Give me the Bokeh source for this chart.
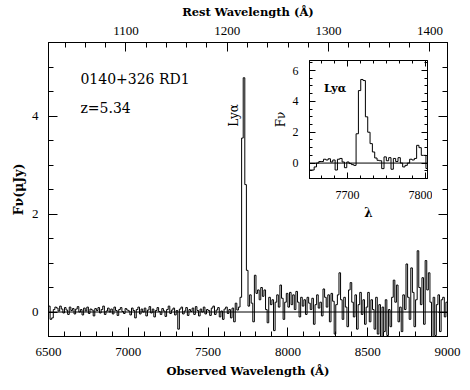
import numpy as np
from bokeh.plotting import figure
from bokeh.models import (Range1d, LinearAxis, SingleIntervalTicker, FixedTicker,
                          Span, Label, CustomJSTickFormatter)
from bokeh.layouts import column
from bokeh.embed import file_html
from bokeh.resources import INLINE

# ---------------- data ----------------
REST_FACTOR = 6.35          # observed / rest wavelength of the top axis
WAVE_START = 6500           # first bin of the main spectrum (Å)
WAVE_STEP = 10              # bin width of the main spectrum (Å)
WAVE_END = 9000

flux_6500 = [0.12, -0.15, -0.12, 0.05, 0.10, 0.08, 0.02, 0.12, 0.06, -0.02,
             0.09, 0.04, -0.05, 0.10, 0.03, 0.07, -0.04, 0.06, 0.11, 0.00,
             0.05, -0.06, 0.08, 0.02, 0.10, -0.03, 0.06, 0.04, -0.08, 0.07,
             0.03, 0.09, -0.02, 0.05, 0.12, -0.05, 0.02, 0.08, 0.00, 0.06,
             -0.04, 0.10, 0.03, -0.07, 0.05, 0.09, 0.01, -0.03, 0.07, 0.04]
flux_7000 = [0.02, -0.06, 0.08, 0.03, -0.12, 0.05, 0.10, -0.04, 0.06, 0.00,
             0.08, -0.08, 0.04, 0.11, -0.02, 0.06, -0.10, 0.03, 0.09, 0.01,
             -0.05, 0.07, 0.02, -0.09, 0.05, 0.12, -0.03, 0.04, 0.08, -0.06,
             0.03, -0.35, 0.06, 0.10, -0.04, 0.02, 0.09, -0.07, 0.05, 0.01,
             0.08, -0.05, 0.11, 0.03, -0.08, 0.06, 0.00, 0.10, -0.04, 0.05]
flux_7500 = [0.03, -0.07, 0.08, 0.12, -0.05, 0.04, 0.09, -0.10, 0.02, -0.15,
             0.06, 0.10, -0.03, 0.05, -0.12, 0.08, -0.20, 0.18, 0.04, 0.10,
             0.30, 3.55, 4.78, 2.60, 0.85, 0.12, 0.35, 0.18, -0.20, 0.75,
             0.38, 0.45, 0.25, 0.50, 0.32, 0.45, 0.05, -0.22, 0.30, 0.15,
             0.25, -0.38, 0.20, 0.35, 0.10, 0.55, 0.28, -0.15, 0.20, 0.38]
flux_8000 = [0.10, 0.40, 0.15, 0.35, 0.05, 0.42, 0.20, -0.10, 0.30, 0.12,
             0.25, -0.05, 0.30, 0.18, 0.05, 0.28, -0.25, 0.15, 0.35, 0.08,
             0.20, -0.08, 0.47, 0.30, 0.10, 0.35, -0.20, 0.38, 0.22, -0.45,
             0.15, 0.35, 0.80, 0.25, -0.15, 0.30, 0.10, -0.30, 0.45, 0.60,
             0.20, -0.10, 0.35, -0.35, 0.15, 0.40, -0.05, 0.25, -0.25, 0.10]
flux_8500 = [0.40, -0.20, 0.25, 0.05, -0.35, 0.30, -0.45, 0.15, -0.50, 0.10,
             -0.40, 0.25, -0.48, 0.05, -0.30, 0.30, 0.65, 0.20, 0.55, -0.20,
             0.10, -0.40, 0.35, 0.05, 0.98, 0.30, -0.15, 0.90, 0.40, -0.30,
             0.25, 1.25, 0.50, 0.15, 0.70, -0.25, 1.05, 0.45, 0.80, 0.20,
             -0.50, 0.30, -0.48, 0.15, 0.35, -0.40, 0.25, 0.30, -0.10, 0.20]

INSET_START = 7651          # first bin of the inset spectrum (Å)
INSET_STEP = 3
inset_flux = [-0.45, -0.45, -0.25, 0.00, 0.10, 0.10, 0.25, 0.20, 0.28, 0.07,
              0.20, -0.45, 0.25, 0.30, 0.07, -0.30, 0.07, -0.03, -0.10, -0.15,
              1.90, 4.70, 5.42, 5.35, 3.00, 2.00, 1.26, 0.72, 0.33, 0.18,
              0.15, -0.36, 0.40, 0.15, 0.35, -0.40, 0.30, 0.10, 0.35, 0.00,
              -0.25, -0.15, 0.00, 0.25, 0.20, 0.30, 1.15, 1.00, 0.50, 0.50,
              -0.35]

x_ticks_main = 500
y_ticks_main = 2
inset_x_labels = [7700, 7800]
inset_x_minor = [7700 + k * 100 / 6 for k in range(-2, 7)]

# ---------------- build arrays ----------------
flux = flux_6500 + flux_7000 + flux_7500 + flux_8000 + flux_8500
wave = [WAVE_START + WAVE_STEP * i for i in range(len(flux))]
xs = wave + [WAVE_END]
ys = flux + [flux[-1]]

iwave = [INSET_START + INSET_STEP * i for i in range(len(inset_flux))]
ixs = iwave + [iwave[-1] + INSET_STEP]
iys = inset_flux + [inset_flux[-1]]

SERIF = "DejaVu Serif"
TICKF = "Liberation Serif"


def style_axis(ax, tick_font="13px", major=9, minor=5):
    ax.axis_line_color = "black"
    ax.major_tick_line_color = "black"
    ax.minor_tick_line_color = "black"
    ax.major_tick_in = major
    ax.major_tick_out = 0
    ax.minor_tick_in = minor
    ax.minor_tick_out = 0
    ax.major_label_text_font = TICKF
    ax.major_label_text_font_size = tick_font
    ax.major_label_text_color = "black"
    ax.axis_label_text_font = SERIF
    ax.axis_label_text_font_style = "bold"
    ax.axis_label_text_color = "black"


# ---------------- main figure ----------------
p = figure(frame_width=399, frame_height=294,
           x_range=Range1d(6500, 9000), y_range=Range1d(-0.5, 5.5),
           output_backend="svg", toolbar_location=None,
           min_border_left=46, min_border_top=42, min_border_right=20,
           min_border_bottom=50)
p.grid.visible = False
p.outline_line_color = "black"
p.background_fill_color = "white"
p.border_fill_color = "white"

p.xaxis.ticker = SingleIntervalTicker(interval=x_ticks_main, num_minor_ticks=5)
p.yaxis.ticker = SingleIntervalTicker(interval=y_ticks_main, num_minor_ticks=4)
p.xaxis.axis_label = "Observed Wavelength (Å)"
p.yaxis.axis_label = "Fν(μJy)"
for ax in p.xaxis + p.yaxis:
    style_axis(ax)
p.xaxis.axis_label_text_font_size = "11.5px"
p.yaxis.axis_label_text_font_size = "12.5px"
p.xaxis.major_label_standoff = 11
p.xaxis.axis_label_standoff = 5
p.yaxis.major_label_standoff = 10
p.yaxis.axis_label_standoff = 3

p.extra_x_ranges = {"rest": Range1d(6500 / REST_FACTOR, 9000 / REST_FACTOR)}
top = LinearAxis(x_range_name="rest",
                 ticker=SingleIntervalTicker(interval=100, num_minor_ticks=5),
                 axis_label="Rest Wavelength (Å)")
style_axis(top)
top.axis_label_text_font_size = "11.5px"
top.major_label_standoff = 8
top.axis_label_standoff = 5
p.add_layout(top, "above")

right = LinearAxis(ticker=SingleIntervalTicker(interval=y_ticks_main, num_minor_ticks=4),
                   formatter=CustomJSTickFormatter(code="return ''"))
style_axis(right)
p.add_layout(right, "right")

p.add_layout(Span(location=0, dimension="width", line_color="black", line_width=1))
p.step(xs, ys, mode="after", line_color="black", line_width=1)

p.add_layout(Label(x=6700, y=4.76, text="0140+326 RD1", text_font=SERIF,
                   text_font_size="14px", text_baseline="middle", text_color="black"))
p.add_layout(Label(x=6700, y=4.17, text="z=5.34", text_font=SERIF,
                   text_font_size="14px", text_baseline="middle", text_color="black"))
p.add_layout(Label(x=7665, y=4.01, text="Lyα", angle=np.pi / 2, text_font=SERIF,
                   text_font_size="12px", text_align="center", text_baseline="middle",
                   text_color="black"))

# ---------------- inset figure ----------------
ins = figure(frame_width=118, frame_height=118,
             x_range=Range1d(7651, 7803), y_range=Range1d(-1.0, 6.65),
             output_backend="svg", toolbar_location=None,
             min_border_left=48, min_border_top=4, min_border_right=5,
             min_border_bottom=45)
ins.grid.visible = False
ins.outline_line_color = "black"
ins.background_fill_color = "white"
ins.border_fill_alpha = 0
ins.xaxis.ticker = FixedTicker(ticks=inset_x_labels, minor_ticks=inset_x_minor)
ins.yaxis.ticker = SingleIntervalTicker(interval=2, num_minor_ticks=4)
ins.xaxis.axis_label = "λ"
ins.yaxis.axis_label = "Fν"
for ax in ins.xaxis + ins.yaxis:
    style_axis(ax, tick_font="12px", major=6, minor=3)
ins.xaxis.axis_label_text_font_size = "12px"
ins.yaxis.axis_label_text_font_size = "12px"
ins.yaxis.axis_label_text_font_style = "normal"
ins.xaxis.major_label_standoff = 12
ins.xaxis.axis_label_standoff = 4
ins.yaxis.major_label_standoff = 11
ins.yaxis.axis_label_standoff = 2

itop = LinearAxis(ticker=FixedTicker(ticks=inset_x_labels, minor_ticks=inset_x_minor),
                  formatter=CustomJSTickFormatter(code="return ''"))
style_axis(itop, major=6, minor=3)
itop.major_label_standoff = 0
ins.add_layout(itop, "above")
iright = LinearAxis(ticker=SingleIntervalTicker(interval=2, num_minor_ticks=4),
                    formatter=CustomJSTickFormatter(code="return ''"))
style_axis(iright, major=6, minor=3)
ins.add_layout(iright, "right")

ins.add_layout(Span(location=0, dimension="width", line_color="black", line_width=1))
ins.step(ixs, iys, mode="after", line_color="black", line_width=1)
ins.add_layout(Label(x=7684, y=4.84, text="Lyα", text_font=SERIF, text_font_style="bold",
                     text_font_size="11px", text_align="center", text_baseline="middle",
                     text_color="black"))

ins.styles = {"position": "absolute", "left": "261px", "top": "56px"}

layout = column(p, ins)
open("out.html", "w").write(file_html(layout, INLINE))
